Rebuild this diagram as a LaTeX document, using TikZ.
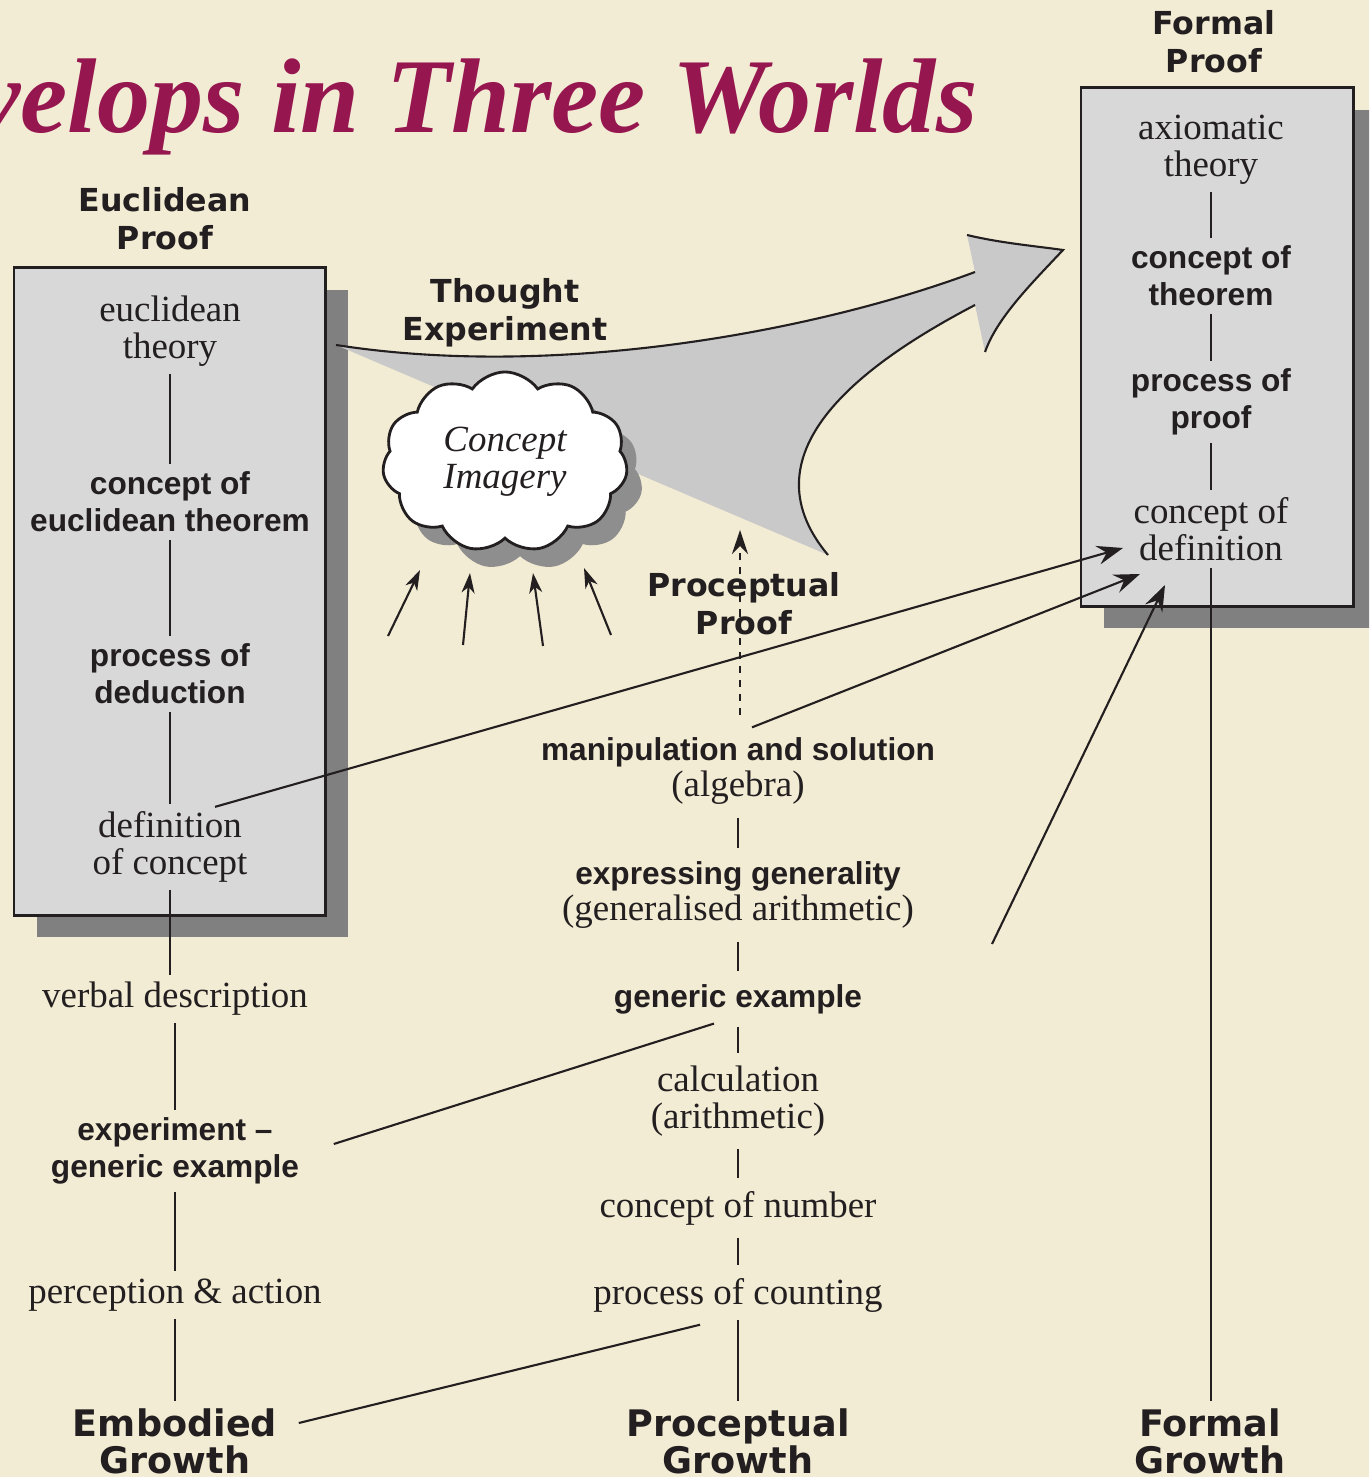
\documentclass[tikz,border=0pt]{standalone}
\usepackage{fontspec}
\setmainfont{Liberation Serif}
\newfontfamily\headfont{DejaVu Sans}
\newfontfamily\labelfont{Liberation Sans}
\usepackage{xcolor}
\usetikzlibrary{arrows.meta, positioning, calc, shapes.symbols, shadows}
\definecolor{paper}{RGB}{243,236,212}
\definecolor{boxgray}{RGB}{216,216,216}
\definecolor{shadowgray}{RGB}{128,128,128}
\definecolor{cloudshadow}{RGB}{142,142,142}
\definecolor{arrowgray}{RGB}{201,201,201}
\definecolor{ink}{RGB}{35,31,32}
\definecolor{titlered}{RGB}{150,22,80}

\begin{document}
\begin{tikzpicture}[
    x=0.01cm, y=-0.01cm,
    every node/.style={text=ink, inner sep=2pt},
    term/.style={align=center, font=\fontsize{10.5}{10.5}\selectfont},
    strong/.style={align=center, font=\labelfont\bfseries\fontsize{9}{10.5}\selectfont},
    head/.style={align=center, font=\headfont\bfseries\fontsize{9}{10.8}\selectfont},
    growth/.style={align=center, font=\headfont\bfseries\fontsize{10.4}{10.5}\selectfont},
    panel/.style={draw=ink, line width=0.8pt, fill=boxgray,
                  drop shadow={shadow xshift=0.23cm, shadow yshift=-0.22cm,
                               fill=shadowgray, opacity=1}},
    link/.style={draw=ink, line width=0.6pt},
    stem/.style={link, shorten <=#1, shorten >=#1},
    stem/.default=0pt,
    feed/.style={link, -{Stealth[length=2.6mm, width=1.9mm, inset=0.9mm]}},
    ray/.style={link, -{Stealth[length=2mm, width=1.3mm, inset=0.6mm]}}
  ]
    \useasboundingbox (0,0) rectangle (1369,1477);
    \clip (0,0) rectangle (1369,1477);
    \fill[paper] (0,0) rectangle (1369,1477);

    \node[anchor=base east, inner sep=0, text=titlered,
          font=\bfseries\itshape\fontsize{30.2}{31}\selectfont] (title) at (978,133)
      {velops in Three Worlds};

    % kotak bukti: euclid kiri, formal kanan
    \node[panel, minimum width=3.11cm, minimum height=6.47cm] (ebox) at (169.5,591.5) {};
    \node[panel, minimum width=2.72cm, minimum height=5.18cm] (fbox) at (1217,347) {};

    \fill[arrowgray] (336,345) .. controls (560,380) and (820,330) .. (975,272)
      -- (967,235) .. controls (1000,243) and (1035,246) .. (1063,250)
      .. controls (1030,285) and (997,318) .. (985,352)
      -- (975,305) .. controls (870,360) and (740,450) .. (828,555) -- cycle;
    \draw[link] (336,345) .. controls (560,380) and (820,330) .. (975,272);
    \draw[link] (967,235) .. controls (1000,243) and (1035,246) .. (1063,250)
      .. controls (1030,285) and (997,318) .. (985,352);
    \draw[link] (975,305) .. controls (870,360) and (740,450) .. (828,555);

    \node[cloud, cloud puffs=11, cloud puff arc=110, aspect=1.35, draw=ink,
          line width=0.8pt, fill=white, minimum width=2.45cm, minimum height=1.8cm,
          drop shadow={shadow xshift=0.15cm, shadow yshift=-0.18cm,
                       fill=cloudshadow, opacity=1},
          align=center, font=\itshape\fontsize{10.5}{10.5}\selectfont]
      (imagery) at (505,462) {Concept\\Imagery};

    \node[head] (euproof) at (165,219) {Euclidean\\Proof};
    \node[term] (eth) at (170,331) {euclidean\\theory};
    \node[strong] (ethm) at (170,502) {concept of\\euclidean theorem};
    \node[strong] (eded) at (170,674) {process of\\deduction};
    \node[term] (edef) at (170,847) {definition\\of concept};
    \node[term] (verbal) at (175,999) {verbal description};
    \node[strong] (expt) at (175,1151) {experiment –\\generic example};
    \node[term] (percep) at (175,1295) {perception \& action};
    \node[growth] (embg) at (175,1441) {Embodied\\Growth};

    \node[head] (thought) at (505,313) {Thought\\Experiment};
    \coordinate (ptip) at (740,530);
    \draw[link, dash pattern=on 2pt off 2pt,
          -{Stealth[length=2.4mm, width=1.6mm, inset=0.8mm]}]
      (740,715) -- (ptip);
    \node[head] (pproof) at (744,604) {Proceptual\\Proof};
    \node[term] (manip) at (738,771)
      {{\labelfont\bfseries\fontsize{9}{10.5}\selectfont manipulation and solution}\\(algebra)};
    \node[term] (expg) at (738,895)
      {{\labelfont\bfseries\fontsize{9}{10.5}\selectfont expressing generality}\\(generalised arithmetic)};
    \node[strong] (gex) at (738,999) {generic example};
    \node[term] (calc) at (738,1101) {calculation\\(arithmetic)};
    \node[term] (cnum) at (738,1208) {concept of number};
    \node[term] (count) at (738,1295) {process of counting};
    \node[growth] (pgrowth) at (738,1441) {Proceptual\\Growth};

    \node[head] (fproof) at (1214,42) {Formal\\Proof};
    \node[term] (axth) at (1211,150) {axiomatic\\theory};
    \node[strong] (cthm) at (1211,276) {concept of\\theorem};
    \node[strong] (prf) at (1211,402) {process of\\proof};
    \node[term] (cdef) at (1211,529) {concept of\\definition};
    \node[growth] (fgrowth) at (1210,1441) {Formal\\Growth};

    \draw[stem] (eth.south) -- (ethm.north);
    \draw[stem] (ethm.south) -- (eded.north);
    \draw[stem] (eded.south) -- (edef.north);
    \draw[stem] (edef.south) -- (edef.south |- verbal.north);
    \draw[stem] (verbal.south) -- (expt.north);
    \draw[stem] (expt.south) -- (percep.north);
    \draw[stem] (percep.south) -- (embg.north);

    \draw[stem=1.5pt] (manip.south) -- (expg.north);
    \draw[stem=1.5pt] (expg.south) -- (gex.north);
    \draw[stem=1.5pt] (gex.south) -- (calc.north);
    \draw[stem=1.5pt] (calc.south) -- (cnum.north);
    \draw[stem=1.5pt] (cnum.south) -- (count.north);
    \draw[stem] (count.south) -- (pgrowth.north);

    \draw[stem] (axth.south) -- (cthm.north);
    \draw[stem] (cthm.south) -- (prf.north);
    \draw[stem] (prf.south) -- (cdef.north);
    \draw[stem] (cdef.south) -- (cdef.south |- fgrowth.north);

    \coordinate (gfree) at (992,944);
    \draw[feed] ($(edef.north)+(45,3)$) -- ($(cdef.center)+(-88,19)$);
    \draw[feed] ($(manip.north)+(14,-2)$) -- ($(cdef.center)+(-71,45)$);
    \draw[feed] (gfree) -- ($(cdef.center)+(-46,56)$);
    \draw[link] ($(expt.east)+(27,-7)$) -- ($(gex.south)+(-24,2)$);
    \draw[link] ($(embg.east)+(14,-18)$) -- ($(count.south)+(-38,5)$);

    \coordinate (r1) at (388,636);
    \coordinate (r2) at (463,645);
    \coordinate (r3) at (543,646);
    \coordinate (r4) at (611,635);
    \draw[ray] (r1) -- ($(imagery.south)+(-85,30)$);
    \draw[ray] (r2) -- ($(imagery.south)+(-35,33)$);
    \draw[ray] (r3) -- ($(imagery.south)+(28,33)$);
    \draw[ray] (r4) -- ($(imagery.south)+(79,28)$);
  \end{tikzpicture}
\end{document}
